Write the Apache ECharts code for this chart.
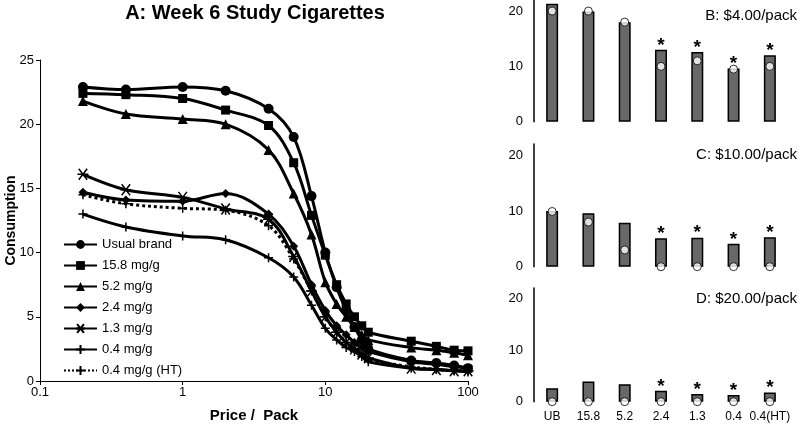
<!DOCTYPE html>
<html><head><meta charset="utf-8">
<script src="https://cdn.jsdelivr.net/npm/echarts@6/dist/echarts.min.js"></script>
<style>html,body{margin:0;padding:0;background:#fff}#c{width:800px;height:425px}</style>
</head><body><div id="c"></div>
<script>
// ---- Panel A data ----
const prices = [0.2, 0.4, 1, 2, 4, 6, 8, 10, 12, 14, 16, 18, 20, 40, 60, 80, 100];
const usualBrand = [22.9, 22.7, 22.9, 22.6, 21.2, 19.0, 14.4, 10.0, 7.3, 5.5, 4.2, 3.2, 2.5, 1.6, 1.4, 1.2, 1.0];
const mg15_8 = [22.4, 22.3, 22.0, 21.1, 19.9, 17.0, 12.9, 9.8, 7.5, 6.0, 5.0, 4.3, 3.8, 3.1, 2.7, 2.4, 2.35];
const mg5_2 = [21.8, 20.8, 20.4, 20.0, 18.0, 14.6, 11.4, 7.7, 6.0, 5.0, 4.2, 3.6, 3.2, 2.6, 2.4, 2.2, 2.0];
const mg2_4 = [14.7, 14.1, 14.0, 14.6, 13.0, 10.5, 7.5, 5.5, 4.3, 3.6, 3.0, 2.6, 2.3, 1.5, 1.3, 1.1, 1.0];
const mg1_3 = [16.1, 14.9, 14.3, 13.4, 12.6, 9.7, 7.0, 5.0, 3.8, 3.0, 2.5, 2.1, 1.8, 1.0, 0.9, 0.8, 0.8];
const mg0_4 = [13.0, 12.0, 11.3, 11.0, 9.6, 8.1, 5.9, 4.1, 3.2, 2.6, 2.3, 1.9, 1.5, 1.0, 0.9, 0.8, 0.7];
const mg0_4HT = [14.5, 13.8, 13.45, 13.3, 12.1, 9.5, 7.0, 5.0, 3.8, 3.0, 2.5, 2.1, 1.7, 1.1, 0.9, 0.8, 0.8];
const seriesNames = ['Usual brand', '15.8 mg/g', '5.2 mg/g', '2.4 mg/g', '1.3 mg/g', '0.4 mg/g', '0.4 mg/g (HT)'];
const xTickLabels = ['0.1', '1', '10', '100'];

// ---- Panels B-D data ----
const cats = ['UB', '15.8', '5.2', '2.4', '1.3', '0.4', '0.4(HT)'];
const barsB = [21.3, 19.9, 18.0, 13.0, 12.6, 9.6, 12.0];
const circB = [20, 20, 18, 10, 11, 9.5, 10];
const barsC = [10.0, 9.6, 7.9, 5.1, 5.2, 4.1, 5.3];
const circC = [9.9, 8, 3, 0, 0, 0, 0];
const barsD = [2.6, 3.9, 3.4, 2.1, 1.5, 1.3, 1.8];
const circD = [0, 0, 0, 0, 0, 0, 0];
const sig = [0, 0, 0, 1, 1, 1, 1];
const panelTitles = ['B: $4.00/pack', 'C: $10.00/pack', 'D: $20.00/pack'];

const FONT = 'Liberation Sans, Arial, sans-serif';
const chart = echarts.init(document.getElementById('c'), null, {renderer: 'canvas'});

const asterisk = 'path://M-5,-5L5,5M-5,5L5,-5M-6.5,0L6.5,0';
const plus = 'path://M-5,0L5,0M0,-5L0,5';
const symbols = ['circle', 'rect', 'triangle', 'diamond', asterisk, plus, plus];
const sizes = [10, 9, 10, 9, 11, 9, 9];
const arrays = [usualBrand, mg15_8, mg5_2, mg2_4, mg1_3, mg0_4, mg0_4HT];

const lineSeries = arrays.map((arr, i) => ({
  name: seriesNames[i],
  type: 'line',
  xAxisIndex: 0, yAxisIndex: 0,
  smooth: 0.35,
  symbol: symbols[i],
  symbolSize: sizes[i],
  showSymbol: true,
  lineStyle: {color: '#000', width: 3, type: i === 6 ? 'dotted' : 'solid'},
  itemStyle: i >= 4 ? {color: '#000', borderColor: '#000', borderWidth: 1.5} : {color: '#000'},
  data: prices.map((p, k) => [p, arr[k]]),
  z: 10 - i
}));

const panelTops = [0, 144, 288];
const panelHeights = [121.7, 122.7, 113.7];
const barData = [barsB, barsC, barsD];
const circData = [circB, circC, circD];

const grids = [{left: 40, right: 332, top: 60, bottom: 44, outerBoundsMode: 'none', containLabel: false}];
const xAxes = [{
  type: 'log', logBase: 10, min: 0.1, max: 100, gridIndex: 0,
  name: 'Price /  Pack', nameLocation: 'middle', nameGap: 27, nameMoveOverlap: false,
  nameTextStyle: {fontFamily: FONT, fontSize: 15, fontWeight: 'bold', color: '#000'},
  axisLine: {lineStyle: {color: '#000', width: 1}},
  axisTick: {show: true, length: 4, lineStyle: {color: '#000'}},
  axisLabel: {fontFamily: FONT, fontSize: 13, color: '#000', margin: 5,
    formatter: v => { const idx = Math.round(Math.log10(v)) + 1; return xTickLabels[idx] !== undefined ? xTickLabels[idx] : ''; }},
  splitLine: {show: false}, minorTick: {show: false}
}];
const yAxes = [{
  type: 'value', min: 0, max: 25, interval: 5, gridIndex: 0,
  name: 'Consumption', nameLocation: 'middle', nameGap: 22, nameMoveOverlap: false,
  nameTextStyle: {fontFamily: FONT, fontSize: 14, fontWeight: 'bold', color: '#000'},
  axisLine: {show: true, lineStyle: {color: '#000', width: 1}},
  axisTick: {show: true, length: 4, lineStyle: {color: '#000'}},
  axisLabel: {fontFamily: FONT, fontSize: 13, color: '#000', margin: 6},
  splitLine: {show: false}
}];
const barSeries = [];
for (let p = 0; p < 3; p++) {
  grids.push({left: 534, right: 12, top: panelTops[p], height: panelHeights[p], outerBoundsMode: 'none', containLabel: false});
  xAxes.push({
    type: 'category', data: cats, gridIndex: p + 1,
    axisLine: {show: false}, axisTick: {show: false},
    axisLabel: {show: p === 2, fontFamily: FONT, fontSize: 12, color: '#000', margin: 9, interval: 0}
  });
  yAxes.push({
    type: 'value', min: 0, max: 22, interval: 10, gridIndex: p + 1,
    axisLine: {show: true, lineStyle: {color: '#000', width: 1.5}},
    axisTick: {show: false},
    axisLabel: {fontFamily: FONT, fontSize: 13, color: '#000', margin: 11,
      formatter: v => (v % 10 === 0 ? String(v) : '')},
    splitLine: {show: false}
  });
  barSeries.push({
    type: 'bar', xAxisIndex: p + 1, yAxisIndex: p + 1, barWidth: 12,
    itemStyle: {color: '#686868', borderColor: '#000', borderWidth: 1.5},
    label: {show: true, position: 'top', distance: -5, fontFamily: FONT, fontSize: 19, fontWeight: 'bold', color: '#000',
      formatter: prm => (sig[prm.dataIndex] ? '*' : '')},
    data: barData[p], z: 2
  });
  barSeries.push({
    type: 'scatter', xAxisIndex: p + 1, yAxisIndex: p + 1,
    symbol: 'circle', symbolSize: 8,
    itemStyle: {color: '#fff', borderColor: '#000', borderWidth: 1},
    data: circData[p], z: 5
  });
}

const option = {
  animation: false,
  backgroundColor: '#fff',
  textStyle: {fontFamily: FONT},
  title: [
    {text: 'A: Week 6 Study Cigarettes', left: 250, top: -2, textAlign: 'center',
      textStyle: {fontFamily: FONT, fontSize: 20, fontWeight: 'bold', color: '#000'}},
    ...panelTitles.map((t, p) => ({text: t, right: -2, top: [3, 142, 286][p],
      textStyle: {fontFamily: FONT, fontSize: 15, fontWeight: 'normal', color: '#000'}}))
  ],
  legend: {
    orient: 'vertical', left: 58, top: 233, itemGap: 8, itemWidth: 33, itemHeight: 11,
    data: seriesNames,
    textStyle: {fontFamily: FONT, fontSize: 13, color: '#000'},
    selectedMode: false
  },
  grid: grids,
  xAxis: xAxes,
  yAxis: yAxes,
  series: [...lineSeries, ...barSeries]
};
chart.setOption(option);
</script>
</body></html>
